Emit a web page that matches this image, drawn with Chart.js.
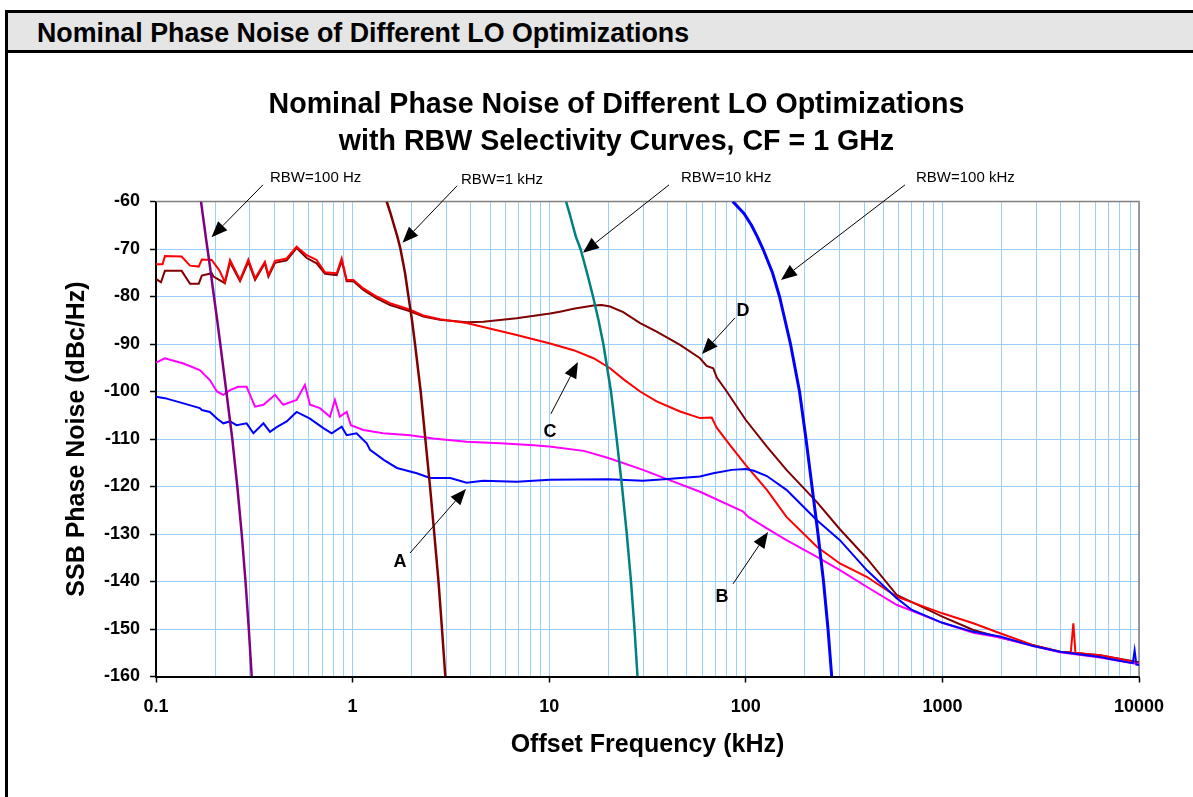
<!DOCTYPE html>
<html>
<head>
<meta charset="utf-8">
<title>Nominal Phase Noise of Different LO Optimizations</title>
<script src="https://cdn.jsdelivr.net/npm/chart.js@4.4.1/dist/chart.umd.min.js"></script>
<style>
  body { margin: 0; background: #fff; overflow: hidden; }
  #header {
    position: absolute; left: 5px; top: 10px; right: 0; height: 37px;
    background: #e5e5e5;
    border-top: 3px solid #000; border-bottom: 3px solid #000; border-left: 3px solid #000;
    font: bold 26.8px "Liberation Sans", Arial, sans-serif;
    line-height: 41px; padding-left: 29px; z-index: 2; overflow: hidden;
  }
  #leftRule { position: absolute; left: 5px; top: 10px; width: 3px; height: 787px; background: #000; z-index: 2; }
  #phaseChart { position: absolute; left: 0; top: 0; }
</style>
</head>
<body>
<div id="header">Nominal Phase Noise of Different LO Optimizations</div>
<div id="leftRule"></div>
<canvas id="phaseChart" width="1193" height="797"></canvas>
<script>
// Offset frequency in kHz, SSB phase noise in dBc/Hz

// RBW selectivity curves, all sampled at the same levels
const rbwLevel = [-60, -62.5, -65, -67.5, -70, -75, -80, -85, -90, -100, -110, -120, -130, -140, -150, -160];
const rbw100HzFreq = [0.1694, 0.1726, 0.1759, 0.1792, 0.1828, 0.1900, 0.1972, 0.2048, 0.2123, 0.2279, 0.2444, 0.2592, 0.2729, 0.2853, 0.2965, 0.3068];
const rbw1kHzFreq = [1.491, 1.559, 1.624, 1.692, 1.752, 1.847, 1.924, 2.005, 2.077, 2.220, 2.344, 2.476, 2.604, 2.735, 2.849, 2.962];
const rbw10kHzFreq = [12.18, 12.69, 13.17, 13.69, 14.43, 15.57, 16.71, 17.82, 18.85, 20.62, 22.04, 23.46, 24.81, 26.07, 27.16, 28.13];
const rbw100kHzFreq = [85.8, 97.9, 106.9, 114.7, 122.3, 136.7, 148.4, 158.3, 168.8, 187.6, 202.4, 217.1, 232.9, 248.5, 261.9, 273.5];

// Trace A (blue)
const traceAFreq = [0.1, 0.111, 0.138, 0.167, 0.171, 0.188, 0.204, 0.220, 0.238, 0.257, 0.289, 0.313, 0.352, 0.380, 0.411,
  0.462, 0.519, 0.607, 0.710, 0.783, 0.880, 0.933, 1.047, 1.18, 1.227, 1.44, 1.68, 2.12, 2.48, 3.14,
  3.80, 4.62, 6.83, 10.1, 20, 30, 40, 58.5, 68.3, 85, 100, 110, 128, 161, 230,
  301, 412, 585, 700, 999, 1436, 1963, 2900, 3965, 6331, 7702, 9300, 9500, 9700, 10000];
const traceALevel = [-101.1, -101.4, -102.5, -103.5, -103.9, -104.3, -105.7, -106.7, -106.3, -107.1, -106.7, -108.8, -106.7, -108.5, -107.5,
  -106.3, -104.3, -105.7, -107.7, -108.8, -107.4, -109.2, -108.8, -110.9, -112.3, -114.4, -116.1, -117.2, -118.2, -118.2,
  -119.2, -118.8, -119.0, -118.6, -118.5, -118.8, -118.4, -117.9, -117.2, -116.5, -116.3, -116.7, -117.8, -120.7, -127.1,
  -131.3, -137.6, -143.5, -146.0, -148.7, -150.6, -151.6, -153.6, -154.8, -155.9, -156.6, -157.2, -154.5, -157.5, -157.6];

// Trace B (magenta)
const traceBFreq = [0.1, 0.111, 0.138, 0.167, 0.188, 0.204, 0.220, 0.238, 0.262, 0.289, 0.319, 0.352, 0.403, 0.444, 0.519,
  0.572, 0.607, 0.682, 0.767, 0.813, 0.861, 0.933, 0.98, 1.134, 1.43, 1.96, 2.57, 3.80, 5.62, 8.34,
  10, 15, 20, 30, 40, 58.5, 97, 103, 128, 161, 230, 301, 412, 585, 999,
  1436, 1963, 2900, 3965, 6331, 10000];
const traceBLevel = [-93.9, -93.0, -94.1, -95.5, -97.6, -100.0, -100.7, -99.7, -99.0, -99.0, -103.2, -102.8, -100.7, -102.8, -101.8,
  -98.6, -102.8, -103.5, -105.3, -101.8, -105.3, -104.3, -107.1, -108.1, -108.8, -109.2, -109.9, -110.6, -110.9, -111.3,
  -111.6, -112.5, -114.0, -116.5, -118.5, -121.1, -125.3, -126.4, -128.8, -131.3, -134.8, -137.6, -141.1, -144.9, -148.7,
  -150.8, -151.8, -153.6, -154.9, -156.0, -157.4];

// Trace C (red)
const traceCFreq = [0.1, 0.108, 0.111, 0.135, 0.149, 0.165, 0.171, 0.192, 0.210, 0.224, 0.238, 0.2675, 0.295, 0.319, 0.358,
  0.373, 0.403, 0.462, 0.519, 0.584, 0.656, 0.724, 0.830, 0.880, 0.933, 1.009, 1.134, 1.326, 1.55, 1.96,
  2.29, 2.78, 3.80, 4.62, 6.83, 10.1, 13.3, 16.8, 20.4, 24, 29.0, 35.2, 46.3, 58.5, 67.1, 71.1,
  83.1, 100, 128, 161, 230, 301, 412, 585, 999, 1436, 1963, 2900, 3965, 4500, 4634,
  4750, 6331, 7702, 10000];
const traceCLevel = [-73.2, -73.2, -71.5, -71.6, -73.5, -73.7, -72.2, -72.3, -74.5, -77.0, -72.3, -76.5, -72.2, -76.2, -72.7,
  -75.5, -72.5, -72.0, -69.5, -71.3, -72.3, -74.9, -75.1, -72.0, -76.5, -76.5, -78.3, -80.0, -81.4, -82.8,
  -84.0, -84.8, -85.6, -86.4, -88.1, -89.9, -91.3, -93.0, -95.1, -97.5, -100.0, -102.1, -104.2, -105.6, -105.5, -107.6,
  -111.3, -115.5, -120.7, -126.4, -132.7, -136.2, -139.0, -143.2, -146.7, -148.8, -150.9, -153.4, -154.8, -154.9, -148.8,
  -155.0, -155.5, -156.2, -157.2];

// Trace D (dark red)
const traceDFreq = [0.1, 0.106, 0.111, 0.135, 0.149, 0.165, 0.171, 0.192, 0.196, 0.224, 0.238, 0.2675, 0.295, 0.319, 0.358,
  0.373, 0.403, 0.462, 0.519, 0.584, 0.656, 0.724, 0.830, 0.880, 0.933, 1.009, 1.134, 1.326, 1.55, 1.96,
  2.29, 2.78, 3.80, 4.62, 6.83, 10.1, 11.35, 13.3, 16.8, 18.5, 20.4, 23.8, 29.0, 35.2, 46.3, 58.5, 63.2, 68.3,
  71.1, 80.0, 100, 128, 161, 230, 301, 412, 585, 999, 1436, 1963, 2900, 3965, 6331,
  10000];
const traceDLevel = [-76.3, -77.0, -74.6, -74.6, -77.3, -77.3, -75.6, -75.1, -75.8, -77.2, -72.8, -76.8, -72.7, -76.5, -73.0,
  -75.8, -72.9, -72.4, -69.8, -71.9, -73.0, -75.2, -75.5, -72.5, -76.8, -76.8, -78.6, -80.4, -81.8, -83.1,
  -84.2, -84.9, -85.4, -85.3, -84.6, -83.6, -83.2, -82.6, -81.9, -81.8, -82.1, -83.3, -85.6, -87.4, -90.2, -93.0, -94.6, -95.1,
  -97.0, -100.0, -106.0, -111.6, -116.5, -123.3, -129.0, -135.1, -142.8, -147.4, -150.2, -151.8, -153.4, -154.8, -155.5,
  -157.0];

// Axis range and decade labels
const freqMin = 0.1, freqMax = 10000;
const levelMin = -160, levelMax = -60, levelStep = 10;
const decadeLabels = ['0.1', '1', '10', '100', '1000', '10000'];

// Callouts in data units: label position, arrow tail, arrow head
const callouts = [
  { text: 'RBW=100 Hz', at: [0.380, -55.05], tail: [0.350, -56.5], head: [0.1916, -67.5], bold: false },
  { text: 'RBW=1 kHz', at: [3.56, -55.5], tail: [3.40, -56.7], head: [1.794, -68.7], bold: false },
  { text: 'RBW=10 kHz', at: [46.8, -55.05], tail: [40.7, -56.5], head: [14.85, -70.8], bold: false },
  { text: 'RBW=100 kHz', at: [734, -55.05], tail: [645, -56.5], head: [151, -76.5], bold: false },
  { text: 'D', at: [96.8, -83.05], tail: [88.1, -84.5], head: [59.9, -92.1], bold: true },
  { text: 'C', at: [10.09, -108.5], tail: [10.2, -104.7], head: [14.0, -93.8], bold: true },
  { text: 'A', at: [1.742, -135.9], tail: [1.959, -134.0], head: [3.775, -120.5], bold: true },
  { text: 'B', at: [75.7, -143.3], tail: [86.1, -140.5], head: [129.7, -129.6], bold: true }
];

const FONT = '"Liberation Sans", Arial, sans-serif';

function toPoints(freq, level) {
  return freq.map((f, i) => ({ x: f, y: level[i] }));
}

function isDecade(v) {
  const e = Math.log10(v);
  return Math.abs(e - Math.round(e)) < 1e-6;
}

function trace(label, freq, level, color, width) {
  return {
    label: label,
    data: toPoints(freq, level),
    borderColor: color,
    backgroundColor: color,
    borderWidth: width,
    pointRadius: 0,
    tension: 0,
    fill: false
  };
}

// Two-line chart title, centred a bit right of the canvas middle like the original
const titlePlugin = {
  id: 'twoLineTitle',
  afterDraw(chart) {
    const ctx = chart.ctx;
    const cx = chart.width / 2 + 20;
    ctx.save();
    ctx.fillStyle = '#000';
    ctx.font = 'bold 28.6px ' + FONT;
    ctx.textAlign = 'center';
    ctx.textBaseline = 'middle';
    ctx.fillText('Nominal Phase Noise of Different LO Optimizations', cx, 105);
    ctx.fillText('with RBW Selectivity Curves, CF = 1 GHz', cx, 142);
    ctx.restore();
  }
};

// Grey frame on the top and right of the plot area
const framePlugin = {
  id: 'plotFrame',
  beforeDatasetsDraw(chart) {
    const { ctx, chartArea: a } = chart;
    ctx.save();
    ctx.strokeStyle = '#808080';
    ctx.lineWidth = 1.5;
    ctx.beginPath();
    ctx.moveTo(a.left, a.top);
    ctx.lineTo(a.right, a.top);
    ctx.lineTo(a.right, a.bottom);
    ctx.stroke();
    ctx.restore();
  }
};

// Arrows and labels pointing at the curves
const calloutPlugin = {
  id: 'callouts',
  afterDraw(chart) {
    const { ctx, scales: { x, y } } = chart;
    ctx.save();
    ctx.fillStyle = '#000';
    ctx.strokeStyle = '#000';
    ctx.lineWidth = 1;
    callouts.forEach(c => {
      const tx = x.getPixelForValue(c.tail[0]), ty = y.getPixelForValue(c.tail[1]);
      const hx = x.getPixelForValue(c.head[0]), hy = y.getPixelForValue(c.head[1]);
      const ang = Math.atan2(hy - ty, hx - tx);
      const len = 16, half = 6.5;
      const bx = hx - len * Math.cos(ang), by = hy - len * Math.sin(ang);
      ctx.beginPath();
      ctx.moveTo(tx, ty);
      ctx.lineTo(bx, by);
      ctx.stroke();
      ctx.beginPath();
      ctx.moveTo(hx, hy);
      ctx.lineTo(bx + half * Math.sin(ang), by - half * Math.cos(ang));
      ctx.lineTo(bx - half * Math.sin(ang), by + half * Math.cos(ang));
      ctx.closePath();
      ctx.fill();

      ctx.font = c.bold ? 'bold 18px ' + FONT : '15px ' + FONT;
      ctx.textAlign = c.bold ? 'center' : 'left';
      ctx.textBaseline = 'middle';
      ctx.fillText(c.text, x.getPixelForValue(c.at[0]), y.getPixelForValue(c.at[1]));
    });
    ctx.restore();
  }
};

const ctx = document.getElementById('phaseChart').getContext('2d');

const phaseChart = new Chart(ctx, {
  type: 'line',
  data: {
    datasets: [
      trace('RBW=100 Hz', rbw100HzFreq, rbwLevel, '#800080', 2.5),
      trace('RBW=1 kHz', rbw1kHzFreq, rbwLevel, '#800000', 2.5),
      trace('RBW=10 kHz', rbw10kHzFreq, rbwLevel, '#008080', 2.5),
      trace('RBW=100 kHz', rbw100kHzFreq, rbwLevel, '#0000ff', 3),
      trace('A', traceAFreq, traceALevel, '#0000ff', 2),
      trace('B', traceBFreq, traceBLevel, '#ff00ff', 2),
      trace('C', traceCFreq, traceCLevel, '#ff0000', 2),
      trace('D', traceDFreq, traceDLevel, '#800000', 2)
    ]
  },
  options: {
    responsive: false,
    animation: false,
    devicePixelRatio: 1,
    layout: { padding: { left: 50, right: 54, top: 201.5, bottom: 0 } },
    plugins: {
      legend: { display: false },
      tooltip: { enabled: false },
      title: { display: false }
    },
    scales: {
      x: {
        type: 'logarithmic',
        min: freqMin,
        max: freqMax,
        afterBuildTicks: (scale) => {
          const ticks = [];
          for (let e = -1; e < 4; e++) {
            for (let m = 1; m < 10; m++) {
              ticks.push({ value: parseFloat((m * Math.pow(10, e)).toPrecision(6)) });
            }
          }
          ticks.push({ value: freqMax });
          scale.ticks = ticks;
        },
        afterFit: (scale) => { scale.height = 120.5; },
        grid: {
          color: '#99ccff',
          lineWidth: 1,
          tickLength: 6,
          tickWidth: 1.5,
          tickColor: (c) => (c.tick && isDecade(c.tick.value) ? '#000' : 'rgba(0,0,0,0)')
        },
        border: { color: '#000', width: 2 },
        ticks: {
          autoSkip: false,
          maxRotation: 0,
          padding: 14,
          color: '#000',
          font: { family: FONT, size: 18, weight: 'bold' },
          callback: (v) => (isDecade(v) ? decadeLabels[Math.round(Math.log10(v)) + 1] : '')
        },
        title: {
          display: true,
          text: 'Offset Frequency (kHz)',
          color: '#000',
          font: { family: FONT, size: 25, weight: 'bold' },
          padding: { top: 0, bottom: 37 }
        }
      },
      y: {
        type: 'linear',
        min: levelMin,
        max: levelMax,
        afterFit: (scale) => { scale.width = 106; },
        grid: { color: '#99ccff', lineWidth: 1, tickLength: 6, tickWidth: 1.5, tickColor: '#000' },
        border: { color: '#000', width: 2 },
        ticks: {
          stepSize: levelStep,
          padding: 10,
          color: '#000',
          font: { family: FONT, size: 18, weight: 'bold' }
        },
        title: {
          display: true,
          text: 'SSB Phase Noise (dBc/Hz)',
          color: '#000',
          font: { family: FONT, size: 25, weight: 'bold' },
          padding: { top: 12.5, bottom: 0 }
        }
      }
    }
  },
  plugins: [framePlugin, titlePlugin, calloutPlugin]
});
</script>
</body>
</html>
